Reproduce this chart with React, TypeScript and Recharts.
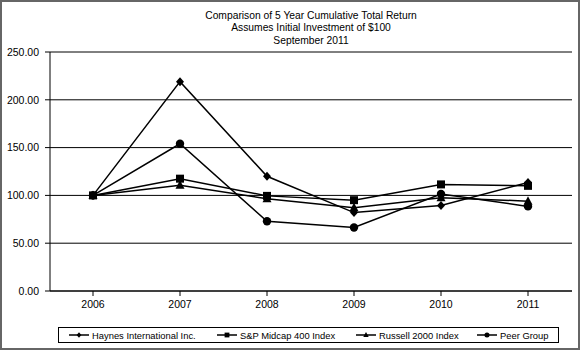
import React from 'react';
import { LineChart, Line, XAxis, YAxis, CartesianGrid } from 'recharts';

const years = ['2006', '2007', '2008', '2009', '2010', '2011'];
const haynes = [100, 219, 120, 82, 89.5, 113.5];
const spMidcap = [100, 117.5, 99.5, 95, 111.5, 110];
const russell = [100, 110.5, 96.5, 87, 97.5, 94];
const peerGroup = [100, 154, 73, 66.5, 101.5, 88.5];
const yTicks = [0, 50, 100, 150, 200, 250];
const titleLines = [
  'Comparison of 5 Year Cumulative Total Return',
  'Assumes Initial Investment of $100',
  'September 2011',
];

const rows = years.map((year, i) => ({
  year,
  haynes: haynes[i],
  sp: spMidcap[i],
  russell: russell[i],
  peer: peerGroup[i],
}));

const FONT = '"Liberation Sans", Arial, Helvetica, sans-serif';

type Shape = 'diamond' | 'square' | 'triangle' | 'circle';

const Marker = ({ cx, cy, shape }: { cx: number; cy: number; shape: Shape }) => {
  if (cx == null || cy == null) return null;
  if (shape === 'diamond') {
    return <polygon points={`${cx},${cy - 4.5} ${cx + 4},${cy} ${cx},${cy + 4.5} ${cx - 4},${cy}`} fill="#000" />;
  }
  if (shape === 'square') {
    return <rect x={cx - 4} y={cy - 4} width={8} height={8} fill="#000" />;
  }
  if (shape === 'triangle') {
    return <polygon points={`${cx},${cy - 5} ${cx + 4.5},${cy + 3.5} ${cx - 4.5},${cy + 3.5}`} fill="#000" />;
  }
  return <circle cx={cx} cy={cy} r={4.2} fill="#000" />;
};

const series: { key: string; name: string; shape: Shape }[] = [
  { key: 'haynes', name: 'Haynes International Inc.', shape: 'diamond' },
  { key: 'sp', name: 'S&P Midcap 400 Index', shape: 'square' },
  { key: 'russell', name: 'Russell 2000 Index', shape: 'triangle' },
  { key: 'peer', name: 'Peer Group', shape: 'circle' },
];

const legendLeft = [10, 158, 297, 418];

const LegendIcon = ({ shape }: { shape: Shape }) => (
  <svg width={20} height={10} style={{ display: 'block' }}>
    <line x1={0} y1={5} x2={20} y2={5} stroke="#000" strokeWidth={1.5} />
    <g transform="translate(10,5) scale(0.6) translate(-10,-5)">
      <Marker cx={10} cy={5} shape={shape} />
    </g>
  </svg>
);

export default function App() {
  return (
    <div style={{ position: 'absolute', left: 0, top: 0, width: 580, height: 350, background: '#fff', fontFamily: FONT }}>
      <LineChart width={580} height={350} data={rows} margin={{ top: 52, right: 8, bottom: 29, left: 8 }}>
        <CartesianGrid vertical={false} stroke="#000" strokeWidth={1} />
        <XAxis
          dataKey="year"
          padding={{ left: 43, right: 44 }}
          height={30}
          tickSize={5}
          tickMargin={5}
          stroke="#000"
          tick={{ fill: '#000', fontSize: 10.5, fontFamily: FONT }}
        />
        <YAxis
          domain={[0, 250]}
          ticks={yTicks}
          width={42}
          tickSize={5}
          tickMargin={6}
          stroke="#000"
          tickFormatter={(v) => Number(v).toFixed(2)}
          tick={{ fill: '#000', fontSize: 10.5, fontFamily: FONT }}
        />
        <YAxis yAxisId="right" orientation="right" width={0} tick={false} tickLine={false} stroke="#000" />
        {series.map((s) => (
          <Line
            key={s.key}
            dataKey={s.key}
            name={s.name}
            stroke="#000"
            strokeWidth={1.5}
            isAnimationActive={false}
            dot={(p: any) => <Marker key={`${s.key}-${p.index}`} cx={p.cx} cy={p.cy} shape={s.shape} />}
            activeDot={false}
          />
        ))}
      </LineChart>
      <div style={{ position: 'absolute', left: 50, top: 10, width: 522, textAlign: 'center', fontSize: 10.3, lineHeight: '12.3px', color: '#000' }}>
        {titleLines.map((t) => (
          <div key={t}>{t}</div>
        ))}
      </div>
      <div
        style={{
          position: 'absolute',
          left: 58,
          top: 327,
          width: 501,
          height: 16,
          border: '1px solid #000',
          boxSizing: 'border-box',
          fontSize: 9.4,
          color: '#000',
        }}
      >
        {series.map((s, i) => (
          <div key={s.key} style={{ position: 'absolute', left: legendLeft[i], top: 1, display: 'flex', alignItems: 'center', height: 12 }}>
            <LegendIcon shape={s.shape} />
            <span style={{ marginLeft: 3, whiteSpace: 'nowrap' }}>{s.name}</span>
          </div>
        ))}
      </div>
      <div style={{ position: 'absolute', left: 0, top: 0, width: 580, height: 350, border: '2px solid #666', boxSizing: 'border-box', pointerEvents: 'none' }} />
    </div>
  );
}
